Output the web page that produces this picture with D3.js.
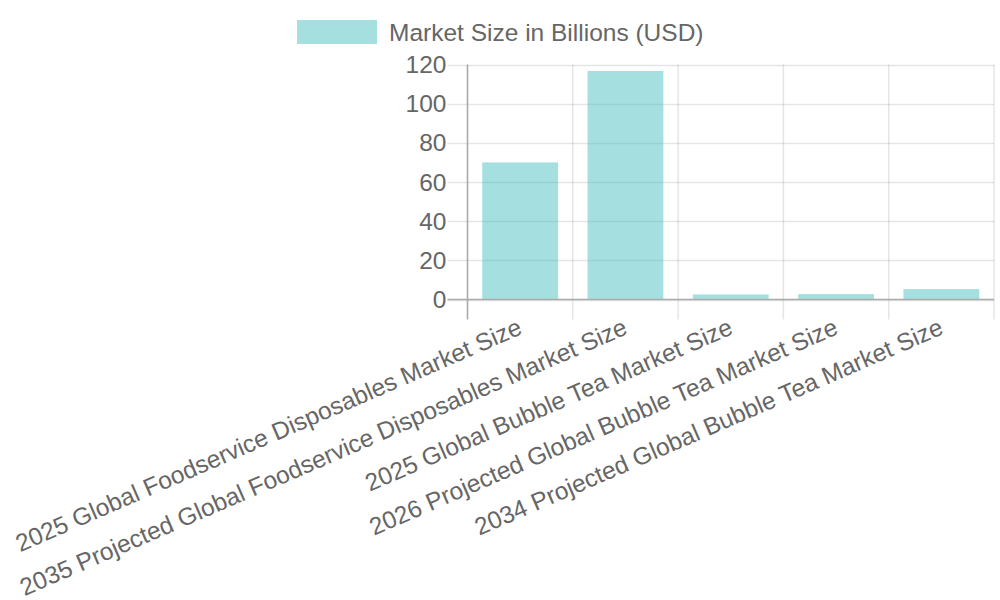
<!DOCTYPE html>
<meta charset="utf-8">
<title>Market Size in Billions (USD)</title>
<style>
    body {
        margin: 0;
        font-family: "Liberation Sans", Arial, sans-serif;
        background: #fff;
    }
</style>

<body>
    <script src="https://d3js.org/d3.v7.min.js"></script>
    <script>
        /* Chart data */
        var categories = [
            "2025 Global Foodservice Disposables Market Size",
            "2035 Projected Global Foodservice Disposables Market Size",
            "2025 Global Bubble Tea Market Size",
            "2026 Projected Global Bubble Tea Market Size",
            "2034 Projected Global Bubble Tea Market Size"
        ];
        var marketSize = [70, 116.7, 2.6, 2.75, 5.3];
        var yTicks = [0, 20, 40, 60, 80, 100, 120];
        var seriesName = "Market Size in Billions (USD)";

        /* Layout constants */
        var width = 1000,
            height = 600;
        var plot = { left: 467.5, right: 994, top: 64.5, bottom: 299.5 };
        var fontSize = 24.5;
        var textColor = "#666";
        var barFill = "rgba(75, 192, 192, 0.5)";

        var svg = d3.select("body").append("svg")
            .attr("width", width)
            .attr("height", height)
            .style("font-family", '"Liberation Sans", Arial, sans-serif');

        var x = d3.scaleBand()
            .domain(categories)
            .range([plot.left, plot.right]);

        var y = d3.scaleLinear()
            .domain([0, 120])
            .range([plot.bottom, plot.top]);

        drawGrid();
        drawBars();
        drawAxes();
        drawLegend();

        function drawGrid() {
            // horizontal lines, they stick out left of the axis as ticks
            svg.append("g")
                .selectAll("line")
                .data(yTicks)
                .enter()
                .append("line")
                .attr("x1", plot.left - 20)
                .attr("x2", plot.right)
                .attr("y1", d => Math.round(y(d)) + 0.5)
                .attr("y2", d => Math.round(y(d)) + 0.5)
                .attr("stroke", "rgba(0,0,0,0.1)")
                .attr("stroke-width", 1.5);

            // vertical lines on the category borders
            var edges = categories.map(d => x(d)).concat([plot.right]);
            svg.append("g")
                .selectAll("line")
                .data(edges)
                .enter()
                .append("line")
                .attr("x1", d => d)
                .attr("x2", d => d)
                .attr("y1", plot.top)
                .attr("y2", plot.bottom + 20)
                .attr("stroke", "rgba(0,0,0,0.1)")
                .attr("stroke-width", 1.5);
        }

        function drawBars() {
            var barWidth = x.bandwidth() * 0.72;
            svg.append("g")
                .selectAll("rect")
                .data(marketSize)
                .enter()
                .append("rect")
                .attr("x", (d, i) => x(categories[i]) + (x.bandwidth() - barWidth) / 2)
                .attr("y", d => y(d))
                .attr("width", barWidth)
                .attr("height", d => y(0) - y(d))
                .attr("fill", barFill);
        }

        function drawAxes() {
            // y axis line and bottom axis line
            svg.append("line")
                .attr("x1", plot.left).attr("x2", plot.left)
                .attr("y1", plot.top).attr("y2", plot.bottom + 20)
                .attr("stroke", "#aaa").attr("stroke-width", 1.5);
            svg.append("line")
                .attr("x1", plot.left - 20).attr("x2", plot.right)
                .attr("y1", plot.bottom).attr("y2", plot.bottom)
                .attr("stroke", "#aaa").attr("stroke-width", 1.5);

            // y tick labels
            svg.append("g")
                .selectAll("text")
                .data(yTicks)
                .enter()
                .append("text")
                .text(d => d)
                .attr("x", plot.left - 21)
                .attr("y", d => y(d))
                .attr("dy", "0.35em")
                .attr("text-anchor", "end")
                .attr("font-size", fontSize)
                .attr("fill", textColor);

            // rotated category labels
            svg.append("g")
                .selectAll("text")
                .data(categories)
                .enter()
                .append("text")
                .text(d => d)
                .attr("transform", d => "translate(" + (x(d) + x.bandwidth() / 2) + "," + (plot.bottom + 26) + ") rotate(-23.5)")
                .attr("dy", "0.35em")
                .attr("text-anchor", "end")
                .attr("font-size", fontSize)
                .attr("fill", textColor);
        }

        function drawLegend() {
            var legend = svg.append("g");
            legend.append("rect")
                .attr("x", 297)
                .attr("y", 20)
                .attr("width", 80)
                .attr("height", 24)
                .attr("fill", barFill);
            legend.append("text")
                .text(seriesName)
                .attr("x", 389)
                .attr("y", 32)
                .attr("dy", "0.35em")
                .attr("font-size", fontSize)
                .attr("fill", textColor);
        }
    </script>
</body>
